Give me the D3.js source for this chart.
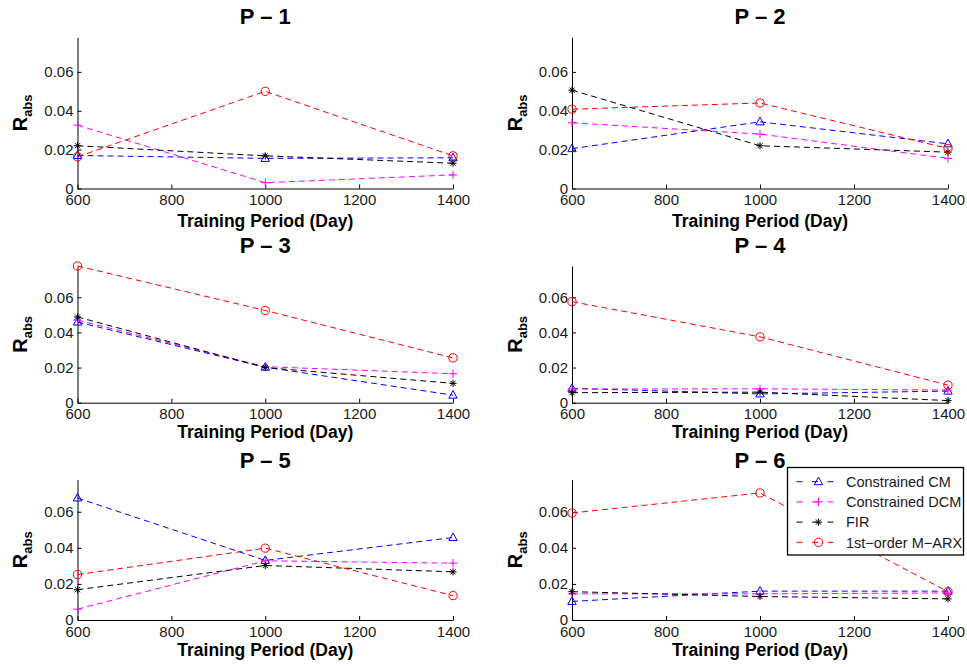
<!DOCTYPE html>
<html>
<head>
<meta charset="utf-8">
<script src="https://cdn.jsdelivr.net/npm/d3@7"></script>
<style>
  body { margin: 0; background: #fff; }
  svg { display: block; font-family: "Liberation Sans", Arial, Helvetica, sans-serif; }
</style>
</head>
<body>
<div id="graf"></div>
<script>
// training periods (days)
const xDays = [600, 1000, 1400]
const xTicks = [600, 800, 1000, 1200, 1400]
const yTicks = [0, 0.02, 0.04, 0.06]
const yMax = 0.0778

const panelTitles = ['P \u2013 1', 'P \u2013 2', 'P \u2013 3', 'P \u2013 4', 'P \u2013 5', 'P \u2013 6']
const seriesNames = ['Constrained CM', 'Constrained DCM', 'FIR', '1st\u2212order M\u2212ARX']

// R_abs per panel, one array per method
const cmVals = [
  [0.0170, 0.0155, 0.0158],
  [0.0205, 0.0343, 0.0230],
  [0.0459, 0.0202, 0.0043],
  [0.0082, 0.0050, 0.0066],
  [0.0676, 0.0330, 0.0457],
  [0.0103, 0.0160, 0.0160],
]
const dcmVals = [
  [0.0326, 0.0030, 0.0070],
  [0.0338, 0.0280, 0.0155],
  [0.0470, 0.0205, 0.0165],
  [0.0078, 0.0079, 0.0072],
  [0.0060, 0.0328, 0.0315],
  [0.0145, 0.0145, 0.0150],
]
const firVals = [
  [0.0220, 0.0168, 0.0130],
  [0.0506, 0.0220, 0.0187],
  [0.0488, 0.0200, 0.0110],
  [0.0057, 0.0060, 0.0012],
  [0.0168, 0.0302, 0.0267],
  [0.0157, 0.0130, 0.0117],
]
const marxVals = [
  [0.0163, 0.0500, 0.0168],
  [0.0408, 0.0440, 0.0206],
  [0.0778, 0.0525, 0.0255],
  [0.0575, 0.0375, 0.0100],
  [0.0252, 0.0398, 0.0135],
  [0.0593, 0.0704, 0.0157],
]

const allSeries = [cmVals, dcmVals, firVals, marxVals]
const colors = ['#0000ff', '#ff00ff', '#000000', '#ff0000']
const markers = ['tri', 'plus', 'star', 'circle']

const W = 967, H = 667
const cols = [{ x0: 77.5, x1: 453 }, { x0: 572, x1: 948 }]
const rows = [
  { top: 37.3, bottom: 188.5, title: 24, xlab: 226.5 },
  { top: 266, bottom: 402.7, title: 253, xlab: 438 },
  { top: 479.6, bottom: 620, title: 468, xlab: 655.5 },
]

const svg = d3.select('#graf')
  .append('svg')
  .attr('width', W)
  .attr('height', H)

function markerPath(type) {
  const p = d3.path()
  if (type === 'tri') {
    p.moveTo(0, -4.6); p.lineTo(4.2, 3); p.lineTo(-4.2, 3); p.closePath()
  } else if (type === 'plus') {
    p.moveTo(-4.2, 0); p.lineTo(4.2, 0); p.moveTo(0, -4.2); p.lineTo(0, 4.2)
  } else if (type === 'star') {
    const r = 3.6, d = r * 0.72
    p.moveTo(-r, 0); p.lineTo(r, 0); p.moveTo(0, -r); p.lineTo(0, r)
    p.moveTo(-d, -d); p.lineTo(d, d); p.moveTo(-d, d); p.lineTo(d, -d)
  } else {
    p.arc(0, 0, 4.1, 0, 2 * Math.PI)
  }
  return p.toString()
}

const font = '"Liberation Sans", Arial, Helvetica, sans-serif'

panelTitles.forEach((title, i) => {
  const col = cols[i % 2]
  const row = rows[Math.floor(i / 2)]

  const x = d3.scaleLinear().domain([600, 1400]).range([col.x0, col.x1])
  const y = d3.scaleLinear().domain([0, yMax]).range([row.bottom, row.top])

  const g = svg.append('g')

  const xAxis = g.append('g')
    .attr('transform', `translate(0, ${row.bottom})`)
    .call(d3.axisBottom(x).tickValues(xTicks).tickSizeInner(-4).tickSizeOuter(0).tickPadding(6)
      .tickFormat(d3.format('d')))
  const yAxis = g.append('g')
    .attr('transform', `translate(${col.x0}, 0)`)
    .call(d3.axisLeft(y).tickValues(yTicks).tickSizeInner(-4).tickSizeOuter(0).tickPadding(4)
      .tickFormat(d => d === 0 ? '0' : d.toFixed(2)))

  ;[xAxis, yAxis].forEach(a => {
    a.attr('font-size', 15).attr('font-family', font)
    a.select('.domain').attr('stroke', '#000').attr('stroke-width', 1)
    a.selectAll('.tick line').attr('stroke', '#000')
    a.selectAll('.tick text').attr('fill', '#1a1a1a')
  })

  const line = d3.line().x((d, j) => x(xDays[j])).y(d => y(d))

  allSeries.forEach((s, k) => {
    const vals = s[i]
    g.append('path')
      .attr('d', line(vals))
      .attr('fill', 'none')
      .attr('stroke', colors[k])
      .attr('stroke-width', 1)
      .attr('stroke-dasharray', '6,4')
    g.selectAll(null)
      .data(vals)
      .enter()
      .append('path')
      .attr('d', markerPath(markers[k]))
      .attr('transform', (d, j) => `translate(${x(xDays[j])}, ${y(d)})`)
      .attr('fill', 'none')
      .attr('stroke', colors[k])
      .attr('stroke-width', 1)
  })

  // title
  g.append('text')
    .attr('x', (col.x0 + col.x1) / 2)
    .attr('y', row.title)
    .attr('text-anchor', 'middle')
    .attr('font-size', 22)
    .attr('font-weight', 'bold')
    .text(title)

  // x label
  g.append('text')
    .attr('x', (col.x0 + col.x1) / 2)
    .attr('y', row.xlab)
    .attr('text-anchor', 'middle')
    .attr('font-size', 17.5)
    .attr('font-weight', 'bold')
    .text('Training Period (Day)')

  // y label R_abs
  const yl = g.append('text')
    .attr('transform', `translate(${col.x0 - 50.5}, ${(row.top + row.bottom) / 2}) rotate(-90)`)
    .attr('text-anchor', 'middle')
    .attr('font-weight', 'bold')
  yl.append('tspan').attr('font-size', 20).text('R')
  yl.append('tspan').attr('font-size', 13).attr('dy', 5).text('abs')
})

// legend
const leg = svg.append('g').attr('transform', 'translate(787.5, 467.5)')
leg.append('rect')
  .attr('width', 176)
  .attr('height', 87.5)
  .attr('fill', '#fff')
  .attr('stroke', '#000')
  .attr('stroke-width', 1.3)

seriesNames.forEach((name, k) => {
  const ly = 14.2 + k * 20.2
  leg.append('line')
    .attr('x1', 9).attr('x2', 53)
    .attr('y1', ly).attr('y2', ly)
    .attr('stroke', colors[k])
    .attr('stroke-width', 1)
    .attr('stroke-dasharray', '6,9.5')
  leg.append('path')
    .attr('d', markerPath(markers[k]))
    .attr('transform', `translate(31, ${ly})`)
    .attr('fill', 'none')
    .attr('stroke', colors[k])
  leg.append('text')
    .attr('x', 58.5)
    .attr('y', ly)
    .attr('dy', '0.36em')
    .attr('font-size', 14.5)
    .attr('fill', '#1a1a1a')
    .text(name)
})
</script>
</body>
</html>
